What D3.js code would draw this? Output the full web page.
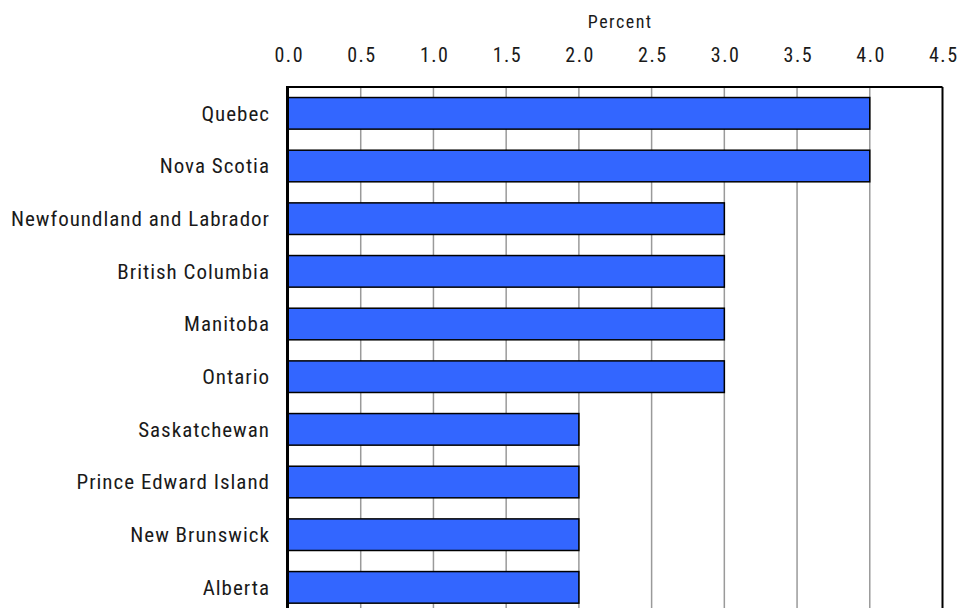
<!DOCTYPE html>
<html><head><meta charset="utf-8">
<script src="https://cdn.jsdelivr.net/npm/d3@7"></script>
<style>
html,body{margin:0;padding:0;background:#fff;overflow:hidden}
text{font-family:"Roboto Condensed","Liberation Sans",sans-serif;font-weight:400;fill:#1a1a1a}
</style></head><body>
<svg id="c" width="958" height="608"></svg>
<script>
const categories = ["Quebec","Nova Scotia","Newfoundland and Labrador","British Columbia","Manitoba","Ontario","Saskatchewan","Prince Edward Island","New Brunswick","Alberta"];
const values = [4.0,4.0,3.0,3.0,3.0,3.0,2.0,2.0,2.0,2.0];
const xTicks = [0,0.5,1.0,1.5,2.0,2.5,3.0,3.5,4.0,4.5];
const axisTitle = "Percent";

const svg = d3.select("#c");
const pLeft = 288, pRight = 942.5, pTop = 87, step = 52.67;
const pBottom = pTop + step*categories.length;
const x = d3.scaleLinear().domain([0,4.5]).range([pLeft,pRight]);
const y = d3.scaleBand().domain(categories).range([pTop,pBottom]).paddingInner(0.4).paddingOuter(0.2);

// gridlines
svg.append("g").selectAll("line").data(xTicks.slice(1,-1)).join("line")
  .attr("x1",d=>x(d)).attr("x2",d=>x(d)).attr("y1",pTop).attr("y2",pBottom)
  .attr("stroke","#9a9a9a").attr("stroke-width",1.5);

// bars
svg.append("g").selectAll("rect").data(categories).join("rect")
  .attr("x",x(0)).attr("y",d=>y(d)).attr("width",(d,i)=>x(values[i])-x(0)).attr("height",y.bandwidth())
  .attr("fill","#3366ff").attr("stroke","#000").attr("stroke-width",1.5);

// frame
svg.append("line").attr("x1",pLeft).attr("x2",pRight).attr("y1",pTop).attr("y2",pTop).attr("stroke","#000").attr("stroke-width",2);
svg.append("line").attr("x1",pRight).attr("x2",pRight).attr("y1",pTop).attr("y2",pBottom).attr("stroke","#000").attr("stroke-width",2);
svg.append("line").attr("x1",pLeft-0.5).attr("x2",pLeft-0.5).attr("y1",pTop-1).attr("y2",pBottom).attr("stroke","#000").attr("stroke-width",3);

// top axis labels
const tickLS = 1.5;
const xa = d3.axisTop(x).tickValues(xTicks).tickFormat(d3.format(".1f")).tickSize(0).tickPadding(0);
const gx = svg.append("g").attr("transform",`translate(${tickLS/2},62)`).call(xa);
gx.select(".domain").remove();
gx.selectAll("text").attr("font-size",20).attr("dy",0).style("letter-spacing",tickLS+"px").attr("fill","#1a1a1a");

// category labels
const labLS = 1;
const ya = d3.axisLeft(y).tickSize(0).tickPadding(0);
const gy = svg.append("g").attr("transform",`translate(${269+labLS},0)`).call(ya);
gy.select(".domain").remove();
gy.selectAll("text").attr("font-size",21).attr("dy","0.35em").style("letter-spacing",labLS+"px").attr("fill","#1a1a1a");

svg.append("text").attr("x",619.5+0.75).attr("y",27.5).attr("text-anchor","middle").attr("font-size",18).style("letter-spacing","1.5px").text(axisTitle);
</script>
</body></html>
